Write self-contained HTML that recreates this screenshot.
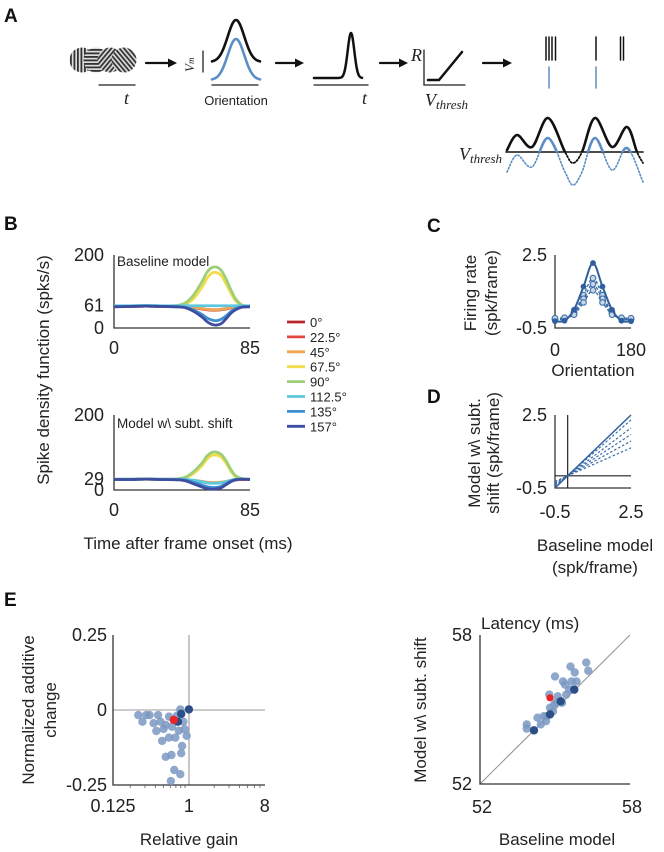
<!DOCTYPE html>
<html><head><meta charset="utf-8"><style>
html,body{margin:0;padding:0;background:#fff;}
svg{display:block;font-family:"Liberation Sans",Arial,sans-serif;}
.tk{font-size:18px;fill:#222;}
.tt{font-size:17px;fill:#222;}
.pl{font-size:19px;font-weight:bold;fill:#111;}
</style></head><body>
<svg id="fig" width="664" height="852" viewBox="0 0 664 852" xmlns="http://www.w3.org/2000/svg">
<defs>
<clipPath id="aboveA"><rect x="500" y="90" width="150" height="62"/></clipPath>
<pattern id="pv" width="3.5" height="3.5" patternUnits="userSpaceOnUse"><rect width="3.5" height="3.5" fill="#ddd"/><rect width="1.8" height="3.5" fill="#333"/></pattern>
<pattern id="ph" width="3.5" height="3.5" patternUnits="userSpaceOnUse"><rect width="3.5" height="3.5" fill="#ddd"/><rect width="3.5" height="1.8" fill="#333"/></pattern>
<pattern id="pd1" width="3.5" height="3.5" patternUnits="userSpaceOnUse" patternTransform="rotate(40)"><rect width="3.5" height="3.5" fill="#ddd"/><rect width="1.8" height="3.5" fill="#333"/></pattern>
<pattern id="pd2" width="3.5" height="3.5" patternUnits="userSpaceOnUse" patternTransform="rotate(-40)"><rect width="3.5" height="3.5" fill="#ddd"/><rect width="1.8" height="3.5" fill="#333"/></pattern>
</defs>

<text class="pl" x="4" y="22">A</text>
<text class="pl" x="4" y="230">B</text>
<text class="pl" x="427" y="232">C</text>
<text class="pl" x="427" y="403">D</text>
<text class="pl" x="4" y="606">E</text>

<!-- Panel A schematic -->
<g id="panelA" stroke-linecap="round">
  <g>
    <circle cx="82" cy="60" r="12.5" fill="url(#pv)"/>
    <circle cx="96" cy="60" r="12.5" fill="url(#ph)"/>
    <circle cx="110" cy="60" r="12.5" fill="url(#pd1)"/>
    <circle cx="124" cy="60" r="12.5" fill="url(#pd2)"/>
  </g>
  <line x1="99" y1="85" x2="135" y2="85" stroke="#222" stroke-width="1.3"/>
  <text x="124" y="104" font-family="Liberation Serif" font-style="italic" font-size="18" fill="#222">t</text>
  <g><line x1="146" y1="63" x2="170" y2="63" stroke="#111" stroke-width="2.2"/><path d="M168,58.5 L177,63 L168,67.5Z" fill="#111"/></g>
  <text transform="translate(194,72) rotate(-90)" font-family="Liberation Serif" font-style="italic" font-size="13" fill="#222">V<tspan font-size="9">m</tspan></text>
  <line x1="203" y1="51" x2="203" y2="72" stroke="#222" stroke-width="1.3"/>
  <path id="tuneBlack" fill="none" stroke="#111" stroke-width="2.6"/>
  <path id="tuneBlue" fill="none" stroke="#5b8ec4" stroke-width="2.6"/>
  <line x1="212" y1="85" x2="258" y2="85" stroke="#222" stroke-width="1.3"/>
  <text x="236" y="105" text-anchor="middle" font-size="13" fill="#222">Orientation</text>
  <g><line x1="276" y1="63" x2="297" y2="63" stroke="#111" stroke-width="2.2"/><path d="M295,58.5 L304,63 L295,67.5Z" fill="#111"/></g>
  <path id="timeCurve" fill="none" stroke="#111" stroke-width="2.5"/>
  <line x1="314" y1="85" x2="368" y2="85" stroke="#222" stroke-width="1.3"/>
  <text x="362" y="104" font-family="Liberation Serif" font-style="italic" font-size="18" fill="#222">t</text>
  <g><line x1="380" y1="63" x2="401" y2="63" stroke="#111" stroke-width="2.2"/><path d="M399,58.5 L408,63 L399,67.5Z" fill="#111"/></g>
  <text x="411" y="61" font-family="Liberation Serif" font-style="italic" font-size="18" fill="#222">R</text>
  <polyline points="424,50 424,85 465,85" fill="none" stroke="#222" stroke-width="1.3"/>
  <polyline points="428,80 439,80 462,52" fill="none" stroke="#111" stroke-width="2.5"/>
  <text x="425" y="106" font-family="Liberation Serif" font-style="italic" font-size="18" fill="#222">V<tspan font-size="13" dy="3">thresh</tspan></text>
  <g><line x1="483" y1="63" x2="505" y2="63" stroke="#111" stroke-width="2.2"/><path d="M503,58.5 L512,63 L503,67.5Z" fill="#111"/></g>
  <g stroke-width="1.5">
    <line x1="546" y1="37" x2="546" y2="60" stroke="#111"/><line x1="549" y1="37" x2="549" y2="60" stroke="#111"/><line x1="552" y1="37" x2="552" y2="60" stroke="#111"/><line x1="555.5" y1="37" x2="555.5" y2="60" stroke="#111"/>
    <line x1="596" y1="37" x2="596" y2="60" stroke="#111"/>
    <line x1="620.5" y1="37" x2="620.5" y2="60" stroke="#111"/><line x1="623.5" y1="37" x2="623.5" y2="60" stroke="#111"/>
    <line x1="549" y1="67" x2="549" y2="88" stroke="#5b8ec4"/><line x1="596" y1="67" x2="596" y2="88" stroke="#5b8ec4"/>
  </g>
  <text x="459" y="160" font-family="Liberation Serif" font-style="italic" font-size="18" fill="#222">V<tspan font-size="13" dy="3">thresh</tspan></text>
  <line x1="506" y1="152" x2="643" y2="152" stroke="#333" stroke-width="1.8"/>
  <path id="trBdot" fill="none" stroke="#111" stroke-width="1.8" stroke-dasharray="1.5,2"/>
  <path id="trBsol" fill="none" stroke="#111" stroke-width="2.6" clip-path="url(#aboveA)"/>
  <path id="trUdot" fill="none" stroke="#5b8ec4" stroke-width="1.6" stroke-dasharray="1.5,2"/>
  <path id="trUsol" fill="none" stroke="#5b8ec4" stroke-width="2.6" clip-path="url(#aboveA)"/>
</g>

<!-- Panel B -->
<g id="panelB">
  <text class="tt" transform="translate(49,370) rotate(-90)" text-anchor="middle">Spike density function (spks/s)</text>
  <text class="tt" x="188" y="549" text-anchor="middle">Time after frame onset (ms)</text>
  <text x="117" y="266" font-size="13.5" fill="#222">Baseline model</text>
  <text x="117" y="428" font-size="13.5" fill="#222">Model w\ subt. shift</text>
  <g id="bTop"></g><g id="bBot"></g>
  <g id="legend"></g>
</g>

<!-- Panel C -->
<g id="panelC">
  <text class="tt" transform="translate(476,293) rotate(-90)" text-anchor="middle">Firing rate</text>
  <text class="tt" transform="translate(497,293) rotate(-90)" text-anchor="middle">(spk/frame)</text>
  <text class="tt" x="593" y="376" text-anchor="middle">Orientation</text>
  <g id="cPlot"></g>
</g>

<!-- Panel D -->
<g id="panelD">
  <text class="tt" transform="translate(480,453) rotate(-90)" text-anchor="middle">Model w\ subt.</text>
  <text class="tt" transform="translate(499,453) rotate(-90)" text-anchor="middle">shift (spk/frame)</text>
  <text class="tt" x="595" y="551" text-anchor="middle">Baseline model</text>
  <text class="tt" x="595" y="573" text-anchor="middle">(spk/frame)</text>
  <g id="dPlot"></g>
</g>

<!-- Panel E -->
<g id="panelE">
  <text class="tt" font-size="18" transform="translate(34,710) rotate(-90)" text-anchor="middle">Normalized additive</text>
  <text class="tt" font-size="18" transform="translate(56,710) rotate(-90)" text-anchor="middle">change</text>
  <text class="tt" x="189" y="845" text-anchor="middle">Relative gain</text>
  <text class="tt" transform="translate(426,710) rotate(-90)" text-anchor="middle">Model w\ subt. shift</text>
  <text class="tt" x="557" y="845" text-anchor="middle">Baseline model</text>
  <text class="tt" x="481" y="629">Latency (ms)</text>
  <g id="eLeft"></g><g id="eRight"></g>
</g>
</svg>

<script>
// ---------- Panel B data ----------
const bTimes = [0,10,20,30,40,45,50,55,58,61,64,67,70,73,76,80,85];
const bOrients = ["0°","22.5°","45°","67.5°","90°","112.5°","135°","157°"];
const bColors = ["#b8262d","#e3463f","#efa552","#f3dc4a","#9ccf77","#5cc8df","#3c8fd0","#3e4d9f"];
const bTop0   = [59,59,60,59,59,58,56,52,50,49,49,50,52,55,57,59,59];
const bTop22  = [59,59,60,59,59,58,56,53,51,50,50,51,53,56,58,59,59];
const bTop45  = [60,60,61,60,60,59,57,53,51,50,50,51,53,56,58,60,60];
const bTop67  = [60,60,61,60,61,66,82,112,135,150,152,144,122,96,75,62,60];
const bTop90  = [60,60,61,60,62,70,92,127,152,165,167,158,135,105,80,63,60];
const bTop112 = [61,61,62,61,61,61,61,61,61,61,61,61,61,61,61,61,61];
const bTop135 = [59,59,60,59,58,56,49,37,28,22,20,24,33,45,53,58,59];
const bTop157 = [58,59,60,59,58,55,45,30,18,10,8,12,25,40,50,57,58];
const bTopSeries = [bTop0,bTop22,bTop45,bTop67,bTop90,bTop112,bTop135,bTop157];
const bBot0   = [28,28,29,28,28,27,25,22,20,19,19,20,22,25,27,28,28];
const bBot22  = [28,28,29,28,28,27,25,22,20,19,19,20,22,25,27,28,28];
const bBot45  = [29,29,29,29,29,28,26,23,21,20,20,21,23,26,28,29,29];
const bBot67  = [28,28,29,28,29,33,45,65,82,92,93,88,72,51,36,30,29];
const bBot90  = [28,28,29,28,30,35,50,72,90,100,101,95,78,55,38,30,29];
const bBot112 = [29,29,29,29,29,28,26,22,19,18,18,19,22,26,28,29,29];
const bBot135 = [28,28,29,28,28,26,20,13,9,7,7,10,17,24,28,29,28];
const bBot157 = [28,28,29,28,27,24,16,8,4,2,3,6,14,22,27,29,28];
const bBotSeries = [bBot0,bBot22,bBot45,bBot67,bBot90,bBot112,bBot135,bBot157];
const bTopTicks = [0,61,200];
const bBotTicks = [0,29,200];
const bXTicks = [0,85];
const bDrawOrder = [0,1,3,2,4,5,6,7];

// ---------- Panel C data ----------
const cOrient = [0,22.5,45,67.5,90,112.5,135,157.5,180];
const cSolid  = [-0.22,-0.2,0.25,1.2,2.17,1.2,0.25,-0.2,-0.22];
const cDash1  = [-0.15,-0.12,0.15,0.85,1.55,0.85,0.15,-0.12,-0.15];
const cDash2  = [-0.12,-0.1,0.1,0.7,1.3,0.7,0.1,-0.1,-0.12];
const cDash3  = [-0.1,-0.08,0.05,0.55,1.05,0.55,0.05,-0.08,-0.1];
const cDashSeries = [cDash1,cDash2,cDash3];
const cXTicks = [0,180];
const cYTicks = [-0.5,2.5];

// ---------- Panel D data ----------
const dSolidEnd = 2.5;
const dDashEnds = [2.3,1.97,1.7,1.43,1.15];
const dTicks = [-0.5,2.5];

// ---------- Panel E data ----------
const eGain = [0.25,0.31,0.34,0.43,0.58,0.72,0.81,0.79,1.0,0.28,0.38,0.46,0.53,0.66,0.74,0.86,0.41,0.5,0.63,0.76,0.89,0.94,0.48,0.58,0.69,0.83,0.53,0.62,0.81,0.67,0.79,0.61];
const eAdd  = [-0.017,-0.017,-0.017,-0.017,-0.022,-0.019,-0.013,0.002,0.002,-0.039,-0.044,-0.039,-0.05,-0.033,-0.039,-0.039,-0.07,-0.063,-0.056,-0.069,-0.064,-0.086,-0.103,-0.092,-0.092,-0.12,-0.156,-0.15,-0.144,-0.2,-0.214,-0.237];
const eLeftKind = [0,0,0,0,0,0,1,0,1,0,0,0,0,2,1,0,0,0,0,0,0,0,0,0,0,0,0,0,0,0,0,0];
const eGainTicks = [0.125,1,8];
const eAddTicks = [-0.25,0,0.25];
const eBase  = [53.87,53.87,54.16,54.3,54.43,54.55,54.67,54.8,54.8,54.92,54.77,54.8,54.97,55.11,55.23,55.0,55.32,55.4,55.45,55.57,55.66,55.62,55.79,55.86,55.77,56.25,56.33,55.28,54.64,55.06];
const eShift = [54.4,54.23,54.16,54.67,54.4,54.73,54.73,54.8,55.07,54.93,55.6,55.47,55.2,55.53,55.33,56.33,56.13,56.0,55.6,55.8,56.13,56.73,56.49,56.13,55.8,56.89,56.56,55.27,54.53,55.29];
const eRightKind = [0,0,1,0,0,0,0,1,0,0,0,2,0,0,1,0,0,0,0,0,0,0,0,0,1,0,0,0,0,0];
const eLatTicks = [52,58];

const NS = "http://www.w3.org/2000/svg";
function mk(parent, tag, attrs){const e=document.createElementNS(NS,tag);for(const k in attrs)e.setAttribute(k,attrs[k]);parent.appendChild(e);return e;}
function smooth(p){let d="M"+p[0][0].toFixed(2)+","+p[0][1].toFixed(2);for(let i=0;i<p.length-1;i++){const p0=p[i-1]||p[i],p1=p[i],p2=p[i+1],p3=p[i+2]||p2;const c1=[p1[0]+(p2[0]-p0[0])/6,p1[1]+(p2[1]-p0[1])/6],c2=[p2[0]-(p3[0]-p1[0])/6,p2[1]-(p3[1]-p1[1])/6];d+="C"+c1[0].toFixed(2)+","+c1[1].toFixed(2)+" "+c2[0].toFixed(2)+","+c2[1].toFixed(2)+" "+p2[0].toFixed(2)+","+p2[1].toFixed(2);}return d;}
function fmt(v){return v<0?"-"+Math.abs(v):String(v);}

// ---------- Panel A schematic paths ----------
(function(){
  function gauss(x0,x1,cx,s,base,amp){const p=[];for(let x=x0;x<=x1;x+=1.2){p.push([x,base-amp*Math.exp(-((x-cx)*(x-cx))/(2*s*s))]);}return smooth(p);}
  document.getElementById('tuneBlack').setAttribute('d',gauss(212,260,236,8.3,62,42));
  document.getElementById('tuneBlue').setAttribute('d',gauss(212,260,236,8.3,80,41));
  document.getElementById('timeCurve').setAttribute('d',gauss(314,363,351,3.3,78,45));
  const blk=[[507,150],[517,135],[532,147],[548,118],[565,152],[573,163],[582,152],[595,118],[612,147],[627,127],[637,152],[643,163]];
  const blu=[[507,172],[517,155],[532,167],[548,138],[565,172],[573,185],[582,172],[595,138],[612,170],[627,148],[643,182]];
  ['trBdot','trBsol'].forEach(id=>document.getElementById(id).setAttribute('d',smooth(blk)));
  ['trUdot','trUsol'].forEach(id=>document.getElementById(id).setAttribute('d',smooth(blu)));
})();

// ---------- Panel B ----------
function drawB(gid, series, ticks, y0, h, label){
  const g=document.getElementById(gid);
  const x=t=>114+t/85*136, y=v=>y0-v/200*h;
  mk(g,'polyline',{points:`114,${y(200)} 114,${y0} 250,${y0}`,fill:'none',stroke:'#333','stroke-width':1.3});
  ticks.forEach(t=>{const tx=mk(g,'text',{x:104,y:y(t)+6,'text-anchor':'end',class:'tk'});tx.textContent=t;
    
    });
  bXTicks.forEach(t=>{const tx=mk(g,'text',{x:x(t),y:y0+26,'text-anchor':'middle',class:'tk'});tx.textContent=t;
    
    });
  bDrawOrder.forEach(i=>{const pts=bTimes.map((t,j)=>[x(t),y(series[i][j])]);
    const p=mk(g,'path',{d:smooth(pts),fill:'none',stroke:bColors[i],'stroke-width':2.8,'stroke-linejoin':'round'});
    
    });
}
drawB('bTop',bTopSeries,bTopTicks,328,73,'baseline');
drawB('bBot',bBotSeries,bBotTicks,490,75,'shift');
(function(){const g=document.getElementById('legend');
  bOrients.forEach((o,i)=>{const yy=322+i*14.9;
    const it=mk(g,'g',{});
    
    
    mk(it,'line',{x1:287,y1:yy,x2:305,y2:yy,stroke:bColors[i],'stroke-width':2.8});
    const t=mk(it,'text',{x:310,y:yy+5,'font-size':13,fill:'#222'});t.textContent=o;});
})();

// ---------- Panel C ----------
(function(){const g=document.getElementById('cPlot');
  const x=o=>555+o/180*76, y=v=>328-(v+0.5)/3*73;
  mk(g,'polyline',{points:`555,${y(2.5)} 555,328 631,328`,fill:'none',stroke:'#333','stroke-width':1.3});
  cYTicks.forEach(t=>{const tx=mk(g,'text',{x:547,y:y(t)+6,'text-anchor':'end',class:'tk'});tx.textContent=fmt(t);
    
    });
  cXTicks.forEach(t=>{const tx=mk(g,'text',{x:x(t),y:356,'text-anchor':'middle',class:'tk'});tx.textContent=t;
    
    });
  cDashSeries.forEach(s=>{const pts=cOrient.map((o,j)=>[x(o),y(s[j])]);
    const p=mk(g,'path',{d:smooth(pts),fill:'none',stroke:'#3d6fa8','stroke-width':1.4,'stroke-dasharray':'3,2'});
    
    
    pts.forEach(q=>{const c=mk(g,'circle',{cx:q[0],cy:q[1],r:2.8,fill:'#c9d6e8',stroke:'#3d6fa8','stroke-width':1.1});
      
      });});
  const pts=cOrient.map((o,j)=>[x(o),y(cSolid[j])]);
  const p=mk(g,'path',{d:smooth(pts),fill:'none',stroke:'#2f5f9c','stroke-width':2});
  
  
  pts.forEach(q=>{const c=mk(g,'circle',{cx:q[0],cy:q[1],r:2.9,fill:'#2f5f9c'});
    
    });
})();

// ---------- Panel D ----------
(function(){const g=document.getElementById('dPlot');
  const x=v=>555+(v+0.5)/3*76, y=v=>488-(v+0.5)/3*73;
  mk(g,'polyline',{points:`555,${y(2.5)} 555,488 631,488`,fill:'none',stroke:'#333','stroke-width':1.3});
  mk(g,'line',{x1:x(0),y1:y(2.5),x2:x(0),y2:488,stroke:'#222','stroke-width':1.2});
  mk(g,'line',{x1:555,y1:y(0),x2:631,y2:y(0),stroke:'#222','stroke-width':1.2});
  dTicks.forEach(t=>{const tx=mk(g,'text',{x:547,y:y(t)+6,'text-anchor':'end',class:'tk'});tx.textContent=fmt(t);
    
    });
  dTicks.forEach(t=>{const tx=mk(g,'text',{x:x(t),y:518,'text-anchor':'middle',class:'tk'});tx.textContent=fmt(t);
    
    });
  dDashEnds.forEach(e=>{const s=e/2.5;
    const l=mk(g,'line',{x1:x(-0.5),y1:y(-0.5*s),x2:x(2.5),y2:y(e),stroke:'#3d6fa8','stroke-width':1.2,'stroke-dasharray':'2.5,2'});
    
    });
  const l=mk(g,'line',{x1:x(-0.5),y1:y(-0.5),x2:x(2.5),y2:y(dSolidEnd),stroke:'#2f5f9c','stroke-width':1.5});
  
  
})();

// ---------- Panel E ----------
const kindFill=['#7a98c2','#2c4f88','#e8262a'];
(function(){const g=document.getElementById('eLeft');
  const x=v=>113+(Math.log2(v)+3)*25.3, y=v=>710-v/0.25*75;
  mk(g,'line',{x1:189,y1:635,x2:189,y2:785,stroke:'#999','stroke-width':1.1});
  mk(g,'line',{x1:113,y1:710,x2:265,y2:710,stroke:'#999','stroke-width':1.1});
  mk(g,'polyline',{points:'113,635 113,785 265,785',fill:'none',stroke:'#333','stroke-width':1.3});
  [0.1,1].forEach(dec=>{for(let m=2;m<=9;m++){const v=dec*m;if(v>0.125&&v<8){mk(g,'line',{x1:x(v),y1:785,x2:x(v),y2:788,stroke:'#555','stroke-width':0.8});}}});
  eAddTicks.forEach(t=>{const tx=mk(g,'text',{x:107,y:y(t)+6,'text-anchor':'end',class:'tk'});tx.textContent=fmt(t);
    
    });
  eGainTicks.forEach(t=>{const tx=mk(g,'text',{x:x(t),y:812,'text-anchor':'middle',class:'tk'});tx.textContent=t;
    
    });
  const order=eGain.map((_,i)=>i).sort((a,b)=>eLeftKind[a]-eLeftKind[b]);
  order.forEach(i=>{const c=mk(g,'circle',{cx:x(eGain[i]),cy:y(eAdd[i]),r:4.2,fill:kindFill[eLeftKind[i]],'fill-opacity':eLeftKind[i]?1:0.85});
    
    });
})();
(function(){const g=document.getElementById('eRight');
  const x=v=>480+(v-52)/6*150, y=v=>784-(v-52)/6*149;
  mk(g,'line',{x1:x(52),y1:y(52),x2:x(58),y2:y(58),stroke:'#999','stroke-width':1.1});
  mk(g,'polyline',{points:'480,635 480,784 630,784',fill:'none',stroke:'#333','stroke-width':1.3});
  eLatTicks.forEach(t=>{const tx=mk(g,'text',{x:472,y:y(t)+6,'text-anchor':'end',class:'tk'});tx.textContent=t;
    
    });
  eLatTicks.forEach(t=>{const tx=mk(g,'text',{x:x(t)+2,y:813,'text-anchor':'middle',class:'tk'});tx.textContent=t;
    
    });
  const order=eBase.map((_,i)=>i).sort((a,b)=>eRightKind[a]-eRightKind[b]);
  order.forEach(i=>{const c=mk(g,'circle',{cx:x(eBase[i]),cy:y(eShift[i]),r:eRightKind[i]===2?3.6:4.2,fill:kindFill[eRightKind[i]],'fill-opacity':eRightKind[i]?1:0.85});
    
    });
})();
</script>
</body></html>
